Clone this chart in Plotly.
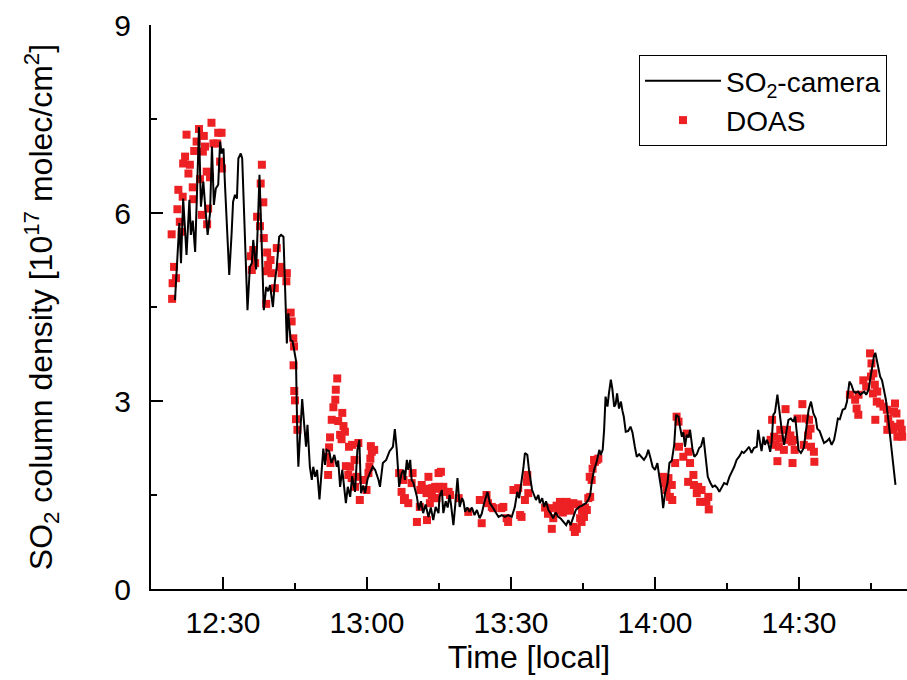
import pandas as pd
import plotly.graph_objects as go

# SO2-camera time series: minutes after 12:00 local, column density [1e17 molec/cm2]
camera_min = [20.0, 20.9, 21.25, 21.7, 22.4, 23.0, 23.3, 23.7, 24.2, 24.6, 25.0, 25.4, 25.9, 26.25, 26.8,
              27.3, 27.7, 28.1, 28.5, 29.0, 29.4, 29.7, 30.1, 30.4, 30.9, 31.3, 31.8, 32.1, 32.5, 32.9,
              33.2, 33.7, 34.0, 34.6, 35.1, 35.6, 36.0, 36.3, 36.9, 37.3, 37.6, 37.9, 38.5, 39.0, 39.4,
              39.8, 40.4, 40.8, 41.2, 41.7, 42.1, 42.6, 42.9, 43.3, 43.6, 44.1, 44.5, 44.8, 45.2, 45.5,
              45.7, 46.0, 46.5, 46.9, 47.3, 47.6, 48.1, 48.5, 48.8, 49.2, 49.6, 50.1, 50.4, 50.9, 51.25,
              51.6, 52.1, 52.6, 53.2, 53.7, 54.0, 54.4, 54.85, 55.6, 56.0, 56.5, 56.9, 57.5, 58.0, 58.4,
              58.75, 59.2, 59.6, 60.1, 60.6, 61.2, 61.7, 62.4, 62.7, 63.3, 64.0, 64.7, 65.4, 65.8, 66.2,
              66.7, 67.2, 67.6, 67.9, 68.3, 68.6, 69.0, 69.3, 69.65, 70.4, 70.8, 71.25, 71.7, 72.2, 72.8,
              73.3, 73.8, 74.3, 74.9, 75.1, 75.6, 75.9, 76.4, 76.8, 77.2, 77.5, 78.0, 78.4, 78.85, 79.3,
              79.8, 80.1, 80.45, 80.9, 81.35, 81.85, 82.4, 82.9, 83.45, 83.9, 84.4, 85.1, 85.6, 86.2, 86.7,
              87.4, 88.1, 88.75, 89.4, 90.15, 90.8, 91.3, 91.7, 92.2, 92.6, 92.9, 93.4, 93.75, 94.4, 94.8,
              95.2, 95.7, 96.0, 96.5, 96.9, 97.3, 97.8, 98.3, 98.8, 99.3, 99.85, 100.4, 100.9, 101.5, 101.95,
              102.4, 103.0, 103.5, 104.2, 104.8, 105.6, 106.1, 106.5, 106.8, 107.3, 107.85, 108.4, 108.7, 109.1, 109.4,
              109.7, 110.1, 110.4, 110.8, 111.1, 111.5, 111.8, 112.1, 112.5, 112.9, 113.2, 113.5, 113.9, 114.4, 114.9,
              115.3, 115.8, 116.2, 116.7, 117.2, 117.7, 118.2, 118.6, 119.1, 119.5, 120.0, 120.5, 120.9, 121.3, 121.7,
              122.1, 122.6, 123.0, 123.5, 124.0, 124.4, 124.9, 125.2, 125.6, 125.9, 126.25, 126.6, 127.0, 127.3, 127.8,
              128.2, 128.7, 129.2, 129.6, 130.1, 130.6, 131.0, 131.5, 132.0, 132.5, 133.0, 133.4, 133.9, 134.4, 135.0,
              135.5, 136.0, 136.5, 137.0, 137.6, 138.1, 138.5, 139.1, 139.6, 140.1, 140.6, 141.2, 141.5, 141.9, 142.2,
              142.6, 142.9, 143.3, 143.6, 144.0, 144.3, 144.65, 145.0, 145.5, 145.9, 146.4, 146.9, 147.5, 147.8, 148.3,
              148.8, 149.2, 149.6, 149.9, 150.4, 151.0, 151.3, 151.7, 152.0, 152.5, 153.0, 153.5, 153.8, 154.3, 154.75,
              155.2, 155.8, 156.3, 156.8, 157.3, 157.7, 158.1, 158.5, 159.1, 159.6, 160.0, 160.5, 160.9, 161.4, 161.8,
              162.3, 162.8, 163.2, 163.6, 164.0, 164.5, 164.8, 165.2, 165.6, 165.9, 166.25, 166.6, 166.9, 167.3, 167.7,
              168.1, 168.7, 169.2, 169.6, 170.1]
camera_val = [4.61, 5.84, 5.20, 6.23, 5.33, 6.21, 5.65, 5.88, 5.38, 6.47, 7.37, 6.10, 6.50, 6.15, 5.65,
              6.00, 7.06, 6.13, 6.39, 6.45, 7.14, 6.95, 7.03, 6.47, 5.57, 5.01, 5.68, 6.18, 6.29, 6.23,
              6.87, 6.95, 6.87, 5.36, 4.45, 5.14, 5.20, 5.57, 5.10, 5.90, 6.61, 5.90, 4.45, 4.82, 4.75,
              4.85, 4.50, 4.90, 5.14, 5.62, 5.65, 5.62, 4.82, 3.92, 4.40, 3.97, 3.95, 3.84, 3.65, 2.38,
              1.95, 2.38, 3.03, 2.64, 2.27, 2.62, 1.95, 1.74, 1.95, 1.79, 1.90, 1.43, 1.79, 2.24, 1.98,
              2.22, 2.20, 2.01, 2.14, 1.95, 2.05, 1.63, 1.90, 1.37, 1.63, 1.47, 1.80, 1.55, 2.22, 2.38,
              1.53, 1.65, 1.53, 1.75, 1.85, 1.95, 1.90, 1.74, 1.63, 2.01, 2.06, 2.20, 2.27, 2.55, 2.22,
              1.63, 1.85, 1.90, 1.74, 2.06, 1.90, 2.06, 1.74, 1.70, 1.47, 1.26, 1.40, 1.21, 1.35, 1.15,
              1.30, 1.10, 1.31, 1.21, 1.47, 1.58, 1.21, 1.40, 1.30, 1.50, 1.35, 1.02, 1.35, 1.77, 1.31,
              1.45, 1.40, 1.23, 1.30, 1.23, 1.30, 1.18, 1.26, 1.13, 1.20, 1.37, 1.55, 1.37, 1.30, 1.23,
              1.15, 1.18, 1.15, 1.18, 1.15, 1.31, 1.55, 1.45, 1.69, 1.95, 2.17, 2.14, 1.90, 1.58, 1.50,
              1.42, 1.50, 1.37, 1.45, 1.31, 1.40, 1.26, 1.20, 1.13, 1.22, 1.15, 1.12, 1.07, 1.02, 1.10,
              1.02, 1.15, 1.26, 1.31, 1.33, 1.37, 1.42, 1.50, 1.69, 1.90, 2.03, 2.22, 2.14, 2.22, 2.54,
              3.07, 2.91, 3.12, 3.34, 3.20, 2.91, 2.95, 3.12, 2.88, 2.99, 2.85, 2.75, 2.51, 2.52, 2.59,
              2.50, 2.27, 2.11, 2.15, 2.11, 2.06, 2.12, 2.22, 2.08, 1.95, 1.90, 2.01, 1.79, 1.60, 1.29,
              1.53, 1.69, 2.01, 2.05, 2.30, 2.78, 2.75, 2.59, 2.43, 2.50, 2.27, 2.46, 2.42, 2.54, 2.24,
              2.11, 2.15, 2.25, 2.28, 2.42, 2.06, 1.79, 1.70, 1.63, 1.65, 1.61, 1.55, 1.62, 1.69, 1.67,
              1.79, 1.87, 1.95, 2.06, 2.12, 2.19, 2.17, 2.22, 2.27, 2.17, 2.25, 2.27, 2.54, 2.33, 2.20,
              2.43, 2.30, 2.38, 2.32, 2.19, 2.35, 2.78, 2.82, 3.10, 2.80, 2.54, 2.30, 2.54, 2.70, 2.72,
              2.67, 2.75, 2.50, 2.22, 2.17, 2.25, 2.43, 2.70, 2.86, 2.99, 2.80, 2.72, 2.56, 2.52, 2.43,
              2.33, 2.36, 2.40, 2.30, 2.38, 2.54, 2.72, 2.71, 2.86, 2.88, 2.99, 3.31, 3.26, 3.15, 3.13,
              3.15, 3.10, 3.13, 3.15, 3.10, 3.18, 3.33, 3.55, 3.71, 3.77, 3.63, 3.55, 3.39, 3.33, 3.20,
              3.02, 2.64, 2.33, 2.01, 1.66]

# DOAS measurements: minutes after 12:00 local, column density [1e17 molec/cm2]
doas_min = [19.3, 19.8, 19.5, 20.2, 19.4, 20.5, 20.7, 21.0, 21.6, 21.4, 21.7, 22.1, 22.4, 22.8, 23.1,
            23.7, 23.8, 24.0, 24.5, 25.0, 26.0, 26.25, 25.8, 26.6, 25.2, 27.3, 27.6, 28.0, 29.0, 29.7,
            28.8, 29.4, 29.8, 25.6, 26.9, 26.7,
            38.1, 37.85, 38.4, 37.1, 37.7, 38.5, 36.3, 35.8, 36.7, 36.0, 39.2, 41.2, 39.9, 39.4, 40.1,
            39.1, 41.9, 42.2, 43.3, 43.2, 40.8, 39.0, 44.1, 44.3, 44.65, 44.8, 44.7, 44.85, 45.0, 45.2, 45.5,
            53.8, 53.5, 53.4, 53.0, 54.85, 52.65, 54.0, 55.1, 55.4, 54.4, 52.3, 54.7, 52.1, 56.25, 58.2,
            51.6, 52.4, 51.9, 55.6, 56.5, 56.1, 56.8, 57.5, 58.5, 59.2, 59.9, 60.8, 61.5, 60.7, 60.5,
            60.3, 56.9, 57.4, 57.85, 61.0,
            66.7, 67.6, 69.5, 67.2, 67.7, 68.6, 69.3, 71.4, 72.8, 72.4, 74.2, 74.5, 74.9, 70.4, 72.5,
            71.0, 67.9, 71.1, 72.1, 73.5, 75.4, 75.0, 75.7, 76.2, 74.0, 73.1, 73.6, 74.6, 75.9, 77.0,
            77.3, 79.1, 81.1, 83.9, 83.5, 84.9, 85.2, 86.0, 86.3, 88.0, 88.4, 89.1, 89.4, 90.5, 91.2,
            91.5, 91.9, 92.2, 92.9, 93.3, 93.4, 93.6,
            98.1, 98.5, 98.8, 100.2, 100.9, 101.6, 103.0, 103.0, 103.3, 103.7, 104.4, 104.7, 105.05, 104.8, 105.8,
            106.1, 106.5, 106.4, 106.8, 107.0, 107.3, 107.5, 107.85, 108.2, 105.2, 99.5, 102.3, 100.8, 97.1, 97.7,
            99.8, 101.5, 104.0, 105.4,
            121.7, 122.1, 122.4, 123.5, 123.1, 123.6, 124.5, 124.9, 126.6, 125.0, 124.2, 125.9, 127.0, 127.3, 126.9,
            128.0, 128.1, 129.0, 128.7, 129.7, 129.4, 131.1, 130.7, 131.2, 122.8,
            144.4, 144.1, 144.8, 145.1, 146.1, 147.2, 147.5, 147.85, 145.8, 146.85, 145.5, 148.65, 149.0, 149.1, 149.7,
            150.7, 151.4, 152.1, 152.4, 151.0, 152.5, 153.1, 153.2, 148.5, 146.0, 148.2, 151.9,
            160.6, 161.7, 162.0, 162.35, 163.4, 164.8, 165.1, 165.5, 165.8, 165.4, 165.9, 166.2, 166.9, 168.3, 170.0,
            170.3, 168.4, 169.7, 170.4, 171.1, 171.4, 170.5, 164.0, 165.0, 166.3, 167.6, 168.6, 169.8, 169.0, 171.5,
            162.4]
doas_val = [5.66, 5.14, 4.88, 4.96, 4.63, 6.06, 6.37, 5.86, 6.26, 5.70, 6.79, 6.90, 7.25, 6.63, 6.77,
            6.41, 6.22, 6.99, 7.14, 7.34, 7.23, 7.06, 6.98, 6.66, 6.54, 6.57, 7.44, 7.11, 7.28, 7.28,
            7.11, 6.82, 6.71, 5.97, 6.07, 5.82,
            6.77, 6.47, 6.17, 5.94, 5.79, 5.60, 5.41, 5.31, 5.20, 5.09, 5.37, 5.44, 5.25, 5.17, 5.04,
            5.07, 5.14, 5.04, 5.04, 4.91, 4.80, 4.55, 4.41, 4.27, 4.00, 3.87, 3.57, 3.16, 3.01, 2.71, 2.54,
            3.36, 3.18, 3.02, 2.90, 2.81, 2.70, 2.68, 2.60, 2.51, 2.46, 2.42, 2.39, 2.26, 2.27, 2.33,
            2.11, 2.01, 1.82, 1.96, 1.95, 1.82, 1.77, 1.63, 1.42, 1.74, 1.58, 2.28, 2.22, 2.08, 1.95,
            1.85, 2.30, 2.06, 1.79, 2.19,
            1.85, 1.74, 1.85, 1.55, 1.42, 1.37, 1.69, 1.66, 1.79, 1.53, 1.63, 1.45, 1.85, 1.07, 1.10,
            1.31, 1.45, 1.58, 1.60, 1.50, 1.87, 1.63, 1.58, 1.55, 1.45, 1.37, 1.61, 1.60, 1.63, 1.55,
            1.50, 1.45, 1.23, 1.05, 1.42, 1.50, 1.37, 1.31, 1.29, 1.29, 1.31, 1.13, 1.07, 1.58, 1.58,
            1.61, 1.18, 1.15, 1.42, 1.71, 1.82, 1.53,
            1.29, 0.96, 1.13, 1.39, 1.34, 1.39, 1.37, 0.99, 0.91, 0.96, 1.13, 1.07, 1.26, 1.26, 1.26,
            1.45, 1.47, 1.79, 1.74, 1.92, 2.06, 2.03, 2.06, 2.08, 1.15, 1.33, 1.25, 1.22, 1.30, 1.20,
            1.25, 1.30, 1.35, 1.30,
            1.79, 1.69, 1.58, 1.66, 1.47, 1.42, 2.75, 2.67, 2.48, 2.27, 2.01, 2.11, 2.19, 2.01, 1.71,
            1.82, 1.66, 1.63, 1.53, 1.58, 1.39, 1.47, 1.39, 1.27, 1.77,
            2.70, 2.38, 2.43, 2.30, 2.54, 2.87, 2.54, 2.38, 2.27, 2.22, 2.04, 2.01, 2.38, 2.22, 2.72,
            2.95, 2.72, 2.70, 2.56, 2.30, 2.27, 2.19, 2.03, 2.35, 2.40, 2.45, 2.45,
            3.10, 3.02, 2.88, 2.78, 3.33, 3.76, 3.60, 3.44, 3.26, 3.12, 2.70, 2.99, 2.96, 2.86, 2.96,
            2.80, 2.54, 2.54, 2.59, 2.64, 2.54, 2.43, 3.23, 3.39, 3.15, 2.91, 2.72, 2.83, 2.62, 2.43,
            3.10]

x_ticks_every_min = 30
y_ticks = [0, 3, 6, 9]

base = pd.Timestamp("2000-01-01 12:00:00")
cam_t = base + pd.to_timedelta(camera_min, unit="m")
doas_t = base + pd.to_timedelta(doas_min, unit="m")

FONT = "Liberation Sans, Arial, sans-serif"

fig = go.Figure()
fig.add_trace(go.Scatter(
    x=doas_t, y=doas_val, mode="markers", name="DOAS", legendrank=2,
    marker=dict(symbol="square", size=8, color="#ED2024", line=dict(width=0)),
))
fig.add_trace(go.Scatter(
    x=cam_t, y=camera_val, mode="lines", name="SO<sub>2</sub>-camera", legendrank=1,
    line=dict(color="black", width=2),
))

fig.update_layout(
    width=907, height=680,
    margin=dict(l=151, r=0, t=25, b=91),
    paper_bgcolor="white", plot_bgcolor="white",
    font=dict(family=FONT, color="black", size=28),
    showlegend=True,
    legend=dict(
        x=0.6455, y=0.9468, xanchor="left", yanchor="top",
        bordercolor="black", borderwidth=1, bgcolor="white",
        font=dict(size=28, family=FONT, color="black"),
        itemwidth=76, tracegroupgap=0,
    ),
    xaxis=dict(
        type="date",
        range=[base + pd.Timedelta(minutes=15), base + pd.Timedelta(minutes=172.5)],
        tick0=base, dtick=x_ticks_every_min * 60 * 1000, tickformat="%H:%M",
        ticks="inside", ticklen=12, tickwidth=2, tickcolor="black",
        minor=dict(dtick=15 * 60 * 1000, ticks="inside", ticklen=6, tickwidth=2, tickcolor="black"),
        showline=True, linewidth=2, linecolor="black",
        showgrid=False, zeroline=False,
        tickfont=dict(size=30, family=FONT),
        ticklabelstandoff=6,
        title=dict(text="Time [local]", font=dict(size=32, family=FONT), standoff=6),
    ),
    yaxis=dict(
        range=[0, 9], tickvals=y_ticks, ticktext=[str(v) for v in y_ticks],
        ticks="inside", ticklen=12, tickwidth=2, tickcolor="black",
        minor=dict(dtick=1.5, ticks="inside", ticklen=6, tickwidth=2, tickcolor="black"),
        showline=True, linewidth=2, linecolor="black",
        showgrid=False, zeroline=False,
        tickfont=dict(size=30, family=FONT),
        ticklabelstandoff=12,
        title=dict(text="SO<sub>2</sub> column density [10<sup>17</sup> molec/cm<sup>2</sup>]",
                   font=dict(size=32, family=FONT), standoff=52),
    ),
)

fig.write_html("out.html")
